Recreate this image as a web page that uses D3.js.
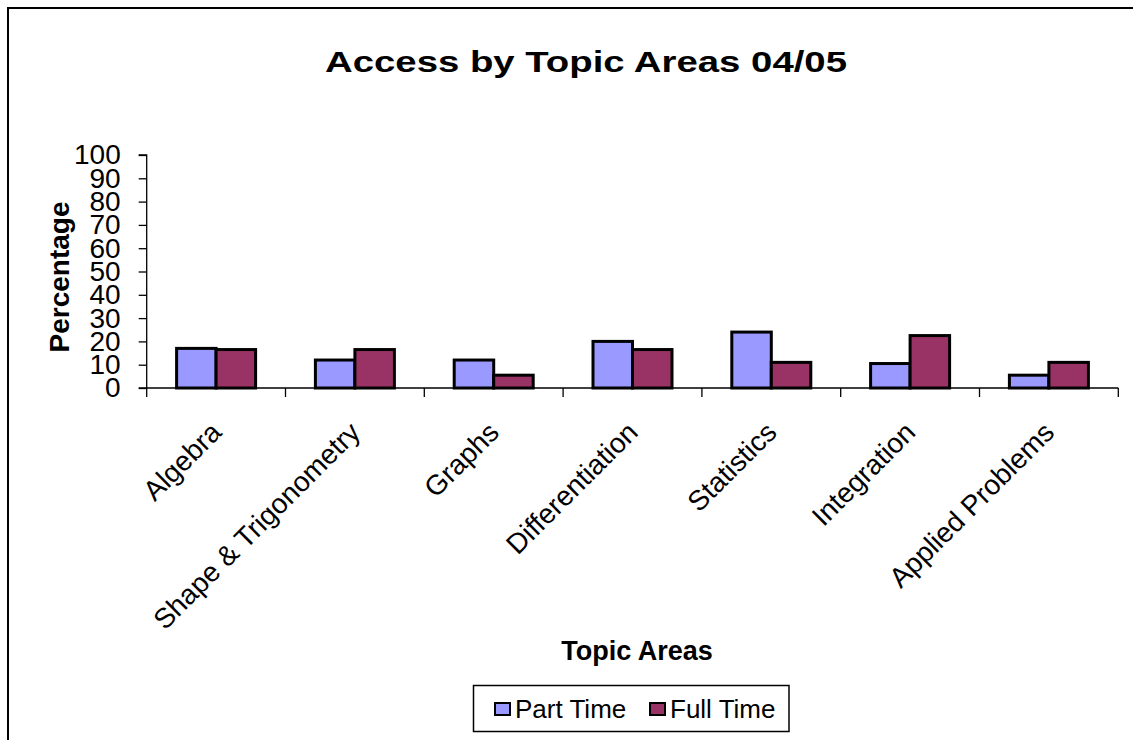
<!DOCTYPE html>
<html>
<head>
<meta charset="utf-8">
<script src="https://cdn.jsdelivr.net/npm/d3@7"></script>
<style>
  html, body { margin: 0; padding: 0; background: #fff; }
  svg { display: block; font-family: "Liberation Sans", Arial, sans-serif; }
</style>
</head>
<body>
<svg id="chart" width="1133" height="740"></svg>
<script>
// Topic areas and the share of accesses (%) for each study mode
const topics = ["Algebra", "Shape & Trigonometry", "Graphs", "Differentiation",
                "Statistics", "Integration", "Applied Problems"];
const series = ["Part Time", "Full Time"];
const partTime = [17, 12, 12, 20, 24, 10.5, 5.5];
const fullTime = [16.5, 16.5, 5.5, 16.5, 11, 22.5, 11];
const yTicks = [0, 10, 20, 30, 40, 50, 60, 70, 80, 90, 100];
const colors = ["#9999FF", "#993366"];

const svg = d3.select("#chart");

// outer chart frame (only the top and left edges fall inside the page)
svg.append("line").attr("x1", 7).attr("y1", 8).attr("x2", 1133).attr("y2", 8)
  .attr("stroke", "#000").attr("stroke-width", 2);
svg.append("line").attr("x1", 8).attr("y1", 7).attr("x2", 8).attr("y2", 740)
  .attr("stroke", "#000").attr("stroke-width", 2);

const plot = { left: 146.7, right: 1118.3, top: 155, bottom: 388 };

const x0 = d3.scaleBand().domain(topics).range([plot.left, plot.right]).padding(0);
const x1 = d3.scaleBand().domain(series).range([0, x0.bandwidth()])
  .paddingInner(0).paddingOuter(0.757);
const y = d3.scaleLinear().domain([0, 100]).range([plot.bottom, plot.top]);

// title
svg.append("text")
  .attr("x", 586).attr("y", 72)
  .attr("text-anchor", "middle")
  .attr("font-weight", "bold").attr("font-size", 29)
  .attr("textLength", 522).attr("lengthAdjust", "spacingAndGlyphs")
  .text("Access by Topic Areas 04/05");

// y axis
const yAxis = d3.axisLeft(y).tickValues(yTicks).tickSize(8).tickPadding(18)
  .tickFormat(d3.format("d"));
const gy = svg.append("g").attr("transform", `translate(${plot.left},0)`).call(yAxis);
gy.select(".domain").attr("stroke", "#000").attr("stroke-width", 1.3)
  .attr("d", `M-8,${plot.top}H0V${plot.bottom}H-8`);
gy.selectAll(".tick line").attr("stroke", "#000").attr("stroke-width", 1.3);
gy.selectAll(".tick text")
  .attr("font-family", "'Liberation Sans', Arial, sans-serif")
  .attr("font-size", 28).attr("fill", "#000");

// bars
const rows = topics.map((t, i) => ({ topic: t, values: [partTime[i], fullTime[i]] }));
const groups = svg.append("g").selectAll("g").data(rows).join("g")
  .attr("transform", d => `translate(${x0(d.topic)},0)`);
groups.selectAll("rect")
  .data(d => d.values.map((v, j) => ({ key: series[j], value: v, j })))
  .join("rect")
  .attr("x", d => x1(d.key))
  .attr("y", d => y(d.value))
  .attr("width", x1.bandwidth())
  .attr("height", d => y(0) - y(d.value))
  .attr("fill", d => colors[d.j])
  .attr("stroke", "#000").attr("stroke-width", 3);

// x axis (ticks between categories)
const xAxis = d3.axisBottom(x0).tickSize(0).tickFormat("");
const gx = svg.append("g").attr("transform", `translate(0,${plot.bottom})`).call(xAxis);
gx.select(".domain").attr("stroke", "#000").attr("stroke-width", 1.3)
  .attr("d", `M${plot.left},0H${plot.right}`);
const bounds = topics.map(t => x0(t)).concat([plot.right]);
gx.selectAll(".bound").data(bounds).join("line").attr("class", "bound")
  .attr("x1", d => d).attr("x2", d => d).attr("y1", 0).attr("y2", 9)
  .attr("stroke", "#000").attr("stroke-width", 1.3);

// rotated category labels
svg.append("g").selectAll("text").data(topics).join("text")
  .attr("transform", d => `translate(${x0(d) + x0.bandwidth() / 2 + 7},${plot.bottom + 46}) rotate(-45)`)
  .attr("text-anchor", "end")
  .attr("font-size", 28)
  .text(d => d);

// axis titles
svg.append("text")
  .attr("transform", `translate(69,277) rotate(-90)`)
  .attr("text-anchor", "middle")
  .attr("font-weight", "bold").attr("font-size", 28)
  .text("Percentage");
svg.append("text")
  .attr("x", 637).attr("y", 660)
  .attr("text-anchor", "middle")
  .attr("font-weight", "bold").attr("font-size", 27)
  .text("Topic Areas");

// legend
const legend = svg.append("g");
legend.append("rect").attr("x", 473.5).attr("y", 685.5).attr("width", 315.5).attr("height", 46)
  .attr("fill", "#fff").attr("stroke", "#000").attr("stroke-width", 1.5);
const lx = [495, 650];
const item = legend.selectAll("g.item").data(series).join("g").attr("class", "item")
  .attr("transform", (d, i) => `translate(${lx[i]},703)`);
item.append("rect").attr("width", 15).attr("height", 12)
  .attr("fill", (d, i) => colors[i]).attr("stroke", "#000").attr("stroke-width", 2);
item.append("text").attr("x", 20).attr("y", 15).attr("font-size", 26).text(d => d);
</script>
</body>
</html>
